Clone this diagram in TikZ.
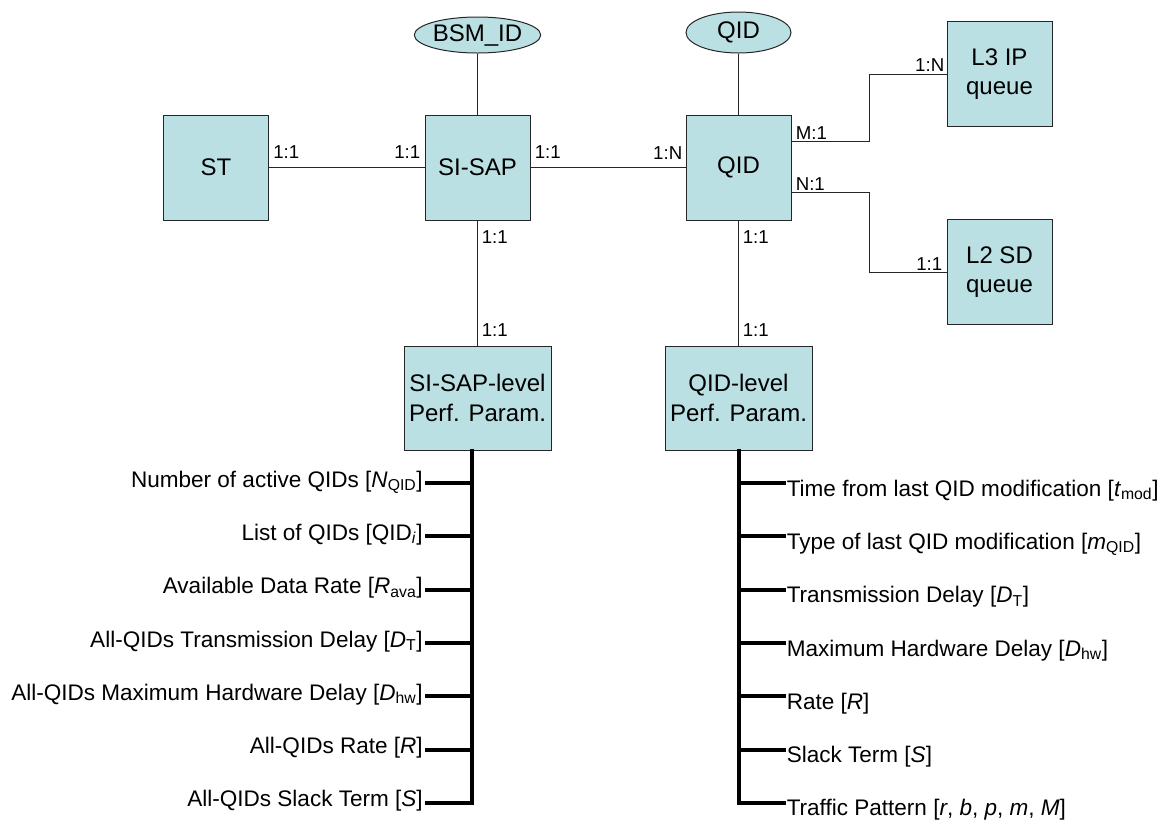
\documentclass[tikz,border=0pt]{standalone}
\usepackage{fontspec}
\setmainfont{Liberation Sans}
\usetikzlibrary{calc,shapes.geometric}
\definecolor{boxfill}{HTML}{BBE0E3}
\newcommand\subx[1]{\textsubscript{#1}}
\begin{document}
\begin{tikzpicture}[x=0.75pt,y=-0.75pt,
  ent/.style={draw=black!85, line width=0.75pt, fill=boxfill, inner sep=0pt,
    minimum width=78.75pt, minimum height=78.75pt, align=center,
    font=\fontsize{18}{22}\selectfont},
  wide/.style={ent, minimum width=110.25pt, minimum height=78pt},
  attr/.style={ellipse, draw=black!85, line width=0.75pt, fill=boxfill, inner sep=0pt,
    minimum width=78.75pt, font=\fontsize{18}{22}\selectfont},
  conn/.style={draw=black!85, line width=0.75pt},
  spine/.style={draw=black, line width=3pt, line join=miter},
  lbl/.style={inner sep=0pt, font=\fontsize{14}{16}\selectfont},
  item/.style={inner sep=0pt, font=\fontsize{16.9}{19}\selectfont}]
\useasboundingbox (0,0) rectangle (1168,819);

% entities
\node[ent] (st) at (216,167.5) {ST};
\node[ent] (sisap) at (477.5,167.5) {SI-SAP};
\node[ent] (qid) at (738.5,167.5) {QID};
\node[ent] (l3) at (999.5,74) {L3 IP\\queue};
\node[ent] (l2) at (999.5,272) {L2 SD\\queue};
\node[wide] (ssl) at (477.5,398) {SI-SAP-level\\Perf. Param.};
\node[wide] (qidl) at (738.5,398) {QID-level\\Perf. Param.};
\node[attr, minimum height=27pt] (bsm) at (477.5,35) {BSM\_ID};
\node[attr, minimum height=30.75pt] (qida) at (738.5,32.5) {QID};

% connectors
\draw[conn] (bsm) -- (sisap);
\draw[conn] (qida) -- (qid);
\draw[conn] (st) -- (sisap);
\draw[conn] (sisap) -- (qid);
\draw[conn] (sisap) -- (ssl);
\draw[conn] (qid) -- (qidl);
\coordinate (qm) at ($(qid.east)+(0,-26)$);
\coordinate (qn) at ($(qid.east)+(0,25)$);
\draw[conn] (qm) -- ++(78,0) |- (l3.west);
\draw[conn] (qn) -- ++(78,0) |- (l2.west);

% cardinality labels
\node[lbl, anchor=base west] at ($(st.east)+(4,-9)$) {1:1};
\node[lbl, anchor=base east] at ($(sisap.west)+(-4,-9)$) {1:1};
\node[lbl, anchor=base west] at ($(sisap.east)+(4,-9)$) {1:1};
\node[lbl, anchor=base east] at ($(qid.west)+(-3,-8)$) {1:N};
\node[lbl, anchor=base west] at ($(qm)+(4,-2)$) {M:1};
\node[lbl, anchor=base west] at ($(qn)+(4,-2)$) {N:1};
\node[lbl, anchor=base east] at ($(l3.west)+(-2,-3)$) {1:N};
\node[lbl, anchor=base east] at ($(l2.west)+(-4,-2)$) {1:1};
\node[lbl, anchor=base west] at ($(sisap.south)+(4,23)$) {1:1};
\node[lbl, anchor=base west] at ($(qid.south)+(4,23)$) {1:1};
\node[lbl, anchor=base west] at ($(ssl.north)+(4,-9)$) {1:1};
\node[lbl, anchor=base west] at ($(qidl.north)+(4,-9)$) {1:1};

% left parameter tree
\foreach \i/\t in {
  1/{Number of active QIDs [\textit{N}\subx{QID}]},
  2/{List of QIDs [QID\subx{\textit{i}}]},
  3/{Available Data Rate [\textit{R}\subx{ava}]},
  4/{All-QIDs Transmission Delay [\textit{D}\subx{T}]},
  5/{All-QIDs Maximum Hardware Delay [\textit{D}\subx{hw}]},
  6/{All-QIDs Rate [\textit{R}]},
  7/{All-QIDs Slack Term [\textit{S}]}} {
  \coordinate (LS\i) at (472,{483+53.33*(\i-1)});
  \coordinate (LB\i) at ($(LS\i)+(-47,0)$);
  \node[item, anchor=base east] (LT\i) at ($(LB\i)+(-2,4)$) {\t};
}
\draw[spine] ($(ssl.south)+(-5.5,-2)$) -- (LS7) -- (LB7);
\foreach \i in {1,...,6} { \draw[spine] (LS\i) -- (LB\i); }

% right parameter tree
\foreach \i/\t in {
  1/{Time from last QID modification [\textit{t}\subx{mod}]},
  2/{Type of last QID modification [\textit{m}\subx{QID}]},
  3/{Transmission Delay [\textit{D}\subx{T}]},
  4/{Maximum Hardware Delay [\textit{D}\subx{hw}]},
  5/{Rate [\textit{R}]},
  6/{Slack Term [\textit{S}]},
  7/{Traffic Pattern [\textit{r}, \textit{b}, \textit{p}, \textit{m}, \textit{M}]}} {
  \coordinate (RS\i) at (738.5,{483+53.33*(\i-1)});
  \coordinate (RB\i) at ($(RS\i)+(47,0)$);
  \node[item, anchor=base west] (RT\i) at ($(RB\i)+(1,13)$) {\t};
}
\draw[spine] ($(qidl.south)+(0,-2)$) -- (RS7) -- (RB7);
\foreach \i in {1,...,6} { \draw[spine] (RS\i) -- (RB\i); }
\end{tikzpicture}
\end{document}
